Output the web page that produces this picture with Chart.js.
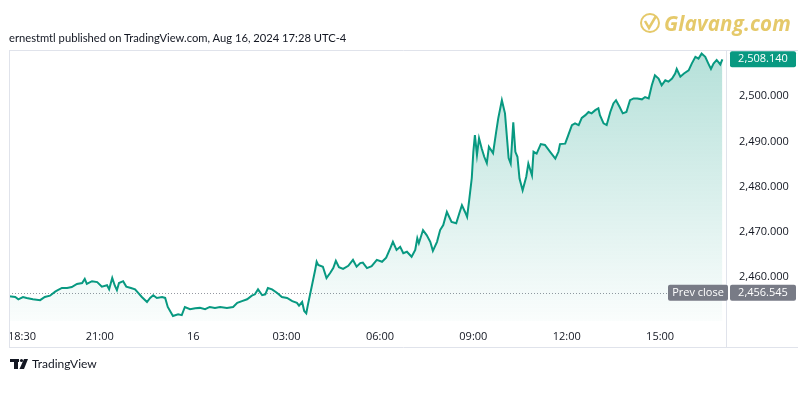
<!DOCTYPE html>
<html lang="en">
<head>
    <meta charset="UTF-8">
    <title>Gold futures - TradingView</title>
    <script src="https://cdn.jsdelivr.net/npm/chart.js"></script>
    <style>
        body { margin: 0; background: #fff; }
        .wrap { position: relative; width: 800px; height: 400px; }
        canvas { position: absolute; left: 0; top: 0; }
        .header { position: absolute; left: 9px; top: 31px; font: 11.2px Lato, sans-serif; color: #131722; }
        .brand { position: absolute; left: 664px; top: 9px; font: italic bold 20.5px "Open Sans", sans-serif; color: #e5c96a; letter-spacing: 0.2px; }
        .tv { position: absolute; left: 32px; top: 356px; font: 12px Lato, sans-serif; color: #131722; }
    </style>
</head>
<body>
    <div class="wrap">
        <canvas id="chart" width="800" height="400"></canvas>
        <div class="header">ernestmtl published on TradingView.com, Aug 16, 2024 17:28 UTC-4</div>
        <div class="brand">Glavang.com</div>
        <div class="tv">TradingView</div>
    </div>

    <script>
        // minutes after 18:00 (Aug 15)
        const timeMin = [5, 17, 23, 32, 39, 51, 65, 74, 84, 94, 99, 107, 117, 126, 136, 146, 151, 155, 165, 175,
            184, 194, 198, 204, 209, 213, 217, 225, 231, 240, 248, 254, 261, 271, 277, 283, 290, 300, 306, 311,
            321, 331, 338, 344, 354, 364, 373, 383, 392, 402, 412, 425, 437, 445, 454, 464, 473, 479, 485, 493,
            499, 504, 512, 522, 531, 541, 551, 560, 564, 570, 574, 578, 581, 589, 595, 598, 601, 610, 617, 624,
            630, 635, 641, 649, 659, 668, 675, 682, 687, 695, 704, 714, 724, 732, 740, 745, 752, 759, 765, 772,
            781, 788, 792, 795, 803, 810, 817, 822, 830, 836, 842, 849, 858, 867, 873, 878, 884, 888, 892, 897,
            900, 903, 907, 911, 916, 921, 926, 930, 938, 944, 948, 955, 961, 968, 972, 977, 981, 985, 989, 995,
            1002, 1006, 1013, 1016, 1022, 1030, 1038, 1048, 1058, 1064, 1067, 1077, 1083, 1090, 1096, 1103, 1109, 1116, 1122, 1128,
            1135, 1141, 1144, 1151, 1157, 1164, 1170, 1175, 1182, 1188, 1195, 1202, 1209, 1216, 1225, 1231, 1238, 1244, 1250, 1257,
            1263, 1270, 1276, 1283, 1289, 1292, 1299, 1306, 1315, 1321, 1328, 1334, 1340, 1347, 1353, 1358, 1363, 1369, 1376, 1380];

        const price = [2455.8, 2455.6, 2455.1, 2455.6, 2455.4, 2455.1, 2454.9, 2455.6, 2455.9, 2456.8, 2457.1, 2457.6, 2457.6, 2457.8, 2458.5, 2458.7, 2459.6, 2458.5, 2459.1, 2458.9,
            2457.9, 2458.2, 2457.3, 2459.8, 2458.1, 2457.1, 2458.7, 2459.1, 2457.9, 2457.6, 2457.3, 2456.5, 2455.6, 2454.5, 2455.4, 2456.0, 2455.4, 2455.6, 2455.4, 2453.4,
            2451.4, 2451.8, 2451.6, 2453.4, 2452.9, 2453.1, 2453.2, 2452.9, 2453.4, 2453.2, 2453.4, 2453.2, 2453.4, 2454.3, 2454.7, 2455.1, 2455.9, 2456.2, 2457.3, 2456.0,
            2456.2, 2457.6, 2457.3, 2456.5, 2455.6, 2455.4, 2454.7, 2454.3, 2453.7, 2454.5, 2452.5, 2452.0, 2453.8, 2458.2, 2461.5, 2463.4, 2462.7, 2462.3, 2459.8, 2460.9,
            2462.0, 2463.6, 2462.2, 2461.8, 2462.5, 2463.8, 2462.3, 2463.1, 2463.2, 2462.0, 2462.4, 2463.8, 2463.4, 2464.3, 2466.4, 2467.8, 2466.0, 2466.7, 2465.3, 2465.6,
            2464.5, 2466.0, 2468.6, 2467.5, 2470.4, 2469.3, 2467.8, 2465.8, 2467.8, 2470.4, 2471.5, 2474.4, 2472.2, 2471.9, 2474.1, 2475.9, 2474.4, 2473.3, 2477.0, 2481.9,
            2487.7, 2491.4, 2487.0, 2490.7, 2488.5, 2486.6, 2485.2, 2488.8, 2487.4, 2492.1, 2495.1, 2499.1, 2496.2, 2486.3, 2485.1, 2494.2, 2487.7, 2486.6, 2481.8, 2479.2,
            2482.2, 2485.1, 2482.5, 2487.7, 2487.3, 2489.4, 2489.2, 2487.7, 2486.2, 2487.7, 2489.4, 2489.5, 2491.4, 2493.6, 2494.0, 2493.6, 2495.2, 2495.8, 2496.5, 2496.2,
            2496.9, 2497.3, 2495.8, 2494.0, 2493.6, 2496.5, 2498.4, 2499.1, 2497.6, 2496.2, 2496.5, 2499.1, 2499.5, 2499.5, 2499.3, 2499.8, 2499.5, 2502.4, 2504.6, 2503.9,
            2502.4, 2503.5, 2503.2, 2503.9, 2505.0, 2506.0, 2504.3, 2505.0, 2505.7, 2507.2, 2508.7, 2508.3, 2509.4, 2508.7, 2507.2, 2506.0, 2507.2, 2508.0, 2507.0, 2508.14];

        const xTickMin = [30, 180, 360, 540, 720, 900, 1080, 1260];
        const xTickLabels = ['18:30', '21:00', '16', '03:00', '06:00', '09:00', '12:00', '15:00'];
        const yTicks = [2460, 2470, 2480, 2490, 2500];
        const lastPrice = 2508.14;
        const prevClose = 2456.545;

        const teal = '#089981';
        const fmt = v => v.toLocaleString('en-US', { minimumFractionDigits: 3, maximumFractionDigits: 3 });

        // frame, prev close line, price labels and logos
        const decor = {
            id: 'decor',
            beforeDatasetsDraw(chart) {
                const { ctx, chartArea, scales } = chart;
                const y = Math.round(scales.y.getPixelForValue(prevClose)) + 0.5;
                ctx.save();
                ctx.strokeStyle = '#9598a1';
                ctx.lineWidth = 1;
                ctx.setLineDash([1, 2]);
                ctx.beginPath();
                ctx.moveTo(chartArea.left, y);
                ctx.lineTo(chartArea.right, y);
                ctx.stroke();
                ctx.restore();
            },
            afterDraw(chart) {
                const { ctx, chartArea, scales } = chart;
                ctx.save();
                ctx.strokeStyle = '#e0e3eb';
                ctx.lineWidth = 1;
                ctx.beginPath();
                ctx.moveTo(9, 50.5); ctx.lineTo(798, 50.5);
                ctx.moveTo(9.5, 50); ctx.lineTo(9.5, 347);
                ctx.moveTo(9, 347.5); ctx.lineTo(798, 347.5);
                ctx.moveTo(chartArea.right + 0.5, 50); ctx.lineTo(chartArea.right + 0.5, 347);
                ctx.stroke();

                ctx.font = '11px "Open Sans", sans-serif';
                ctx.textBaseline = 'middle';
                ctx.textAlign = 'center';

                // last price
                let y = scales.y.getPixelForValue(lastPrice);
                ctx.fillStyle = teal;
                ctx.beginPath();
                ctx.roundRect(730, y - 8, 66, 16, 2);
                ctx.fill();
                ctx.fillStyle = '#fff';
                ctx.fillText(fmt(lastPrice), 763, y);

                // prev close
                y = scales.y.getPixelForValue(prevClose);
                ctx.fillStyle = '#787b86';
                ctx.beginPath();
                ctx.roundRect(668, y - 8, 60, 16, 2);
                ctx.roundRect(730, y - 8, 66, 16, 2);
                ctx.fill();
                ctx.fillStyle = '#fff';
                ctx.fillText('Prev close', 698, y);
                ctx.fillText(fmt(prevClose), 763, y);

                // TradingView mark
                ctx.fillStyle = '#131722';
                ctx.fillRect(10, 359, 9, 3);
                ctx.fillRect(14, 359, 4, 10);
                ctx.beginPath();
                ctx.arc(21.5, 360.5, 1.6, 0, Math.PI * 2);
                ctx.fill();
                ctx.beginPath();
                ctx.moveTo(24, 359); ctx.lineTo(28, 359); ctx.lineTo(24, 369); ctx.lineTo(19.5, 369);
                ctx.closePath();
                ctx.fill();

                // Glavang mark
                ctx.strokeStyle = '#e5c96a';
                ctx.lineWidth = 2;
                ctx.beginPath();
                ctx.arc(650, 23, 9, 0, Math.PI * 2);
                ctx.stroke();
                ctx.lineWidth = 2.5;
                ctx.beginPath();
                ctx.moveTo(645, 21); ctx.lineTo(649, 28); ctx.lineTo(656, 16);
                ctx.stroke();
                ctx.restore();
            }
        };

        const ctx = document.getElementById('chart');
        new Chart(ctx, {
            type: 'line',
            data: {
                datasets: [{
                    data: timeMin.map((t, i) => ({ x: t, y: price[i] })),
                    borderColor: teal,
                    borderWidth: 2,
                    pointRadius: 0,
                    tension: 0,
                    fill: 'start',
                    backgroundColor: (c) => {
                        const area = c.chart.chartArea;
                        if (!area) return 'rgba(8,153,129,0.15)';
                        const g = c.chart.ctx.createLinearGradient(0, area.top, 0, area.bottom);
                        g.addColorStop(0, 'rgba(8,153,129,0.30)');
                        g.addColorStop(1, 'rgba(8,153,129,0.02)');
                        return g;
                    }
                }]
            },
            options: {
                responsive: false,
                animation: false,
                layout: { padding: { left: 9, top: 50, right: 0, bottom: 53 } },
                plugins: { legend: { display: false }, tooltip: { enabled: false } },
                scales: {
                    x: {
                        type: 'linear',
                        min: 5,
                        max: 1387,
                        grid: { display: false },
                        border: { display: false },
                        afterBuildTicks: (s) => { s.ticks = xTickMin.map(v => ({ value: v })); },
                        afterFit: (s) => { s.height = 26; },
                        ticks: {
                            autoSkip: false,
                            maxRotation: 0,
                            padding: 1,
                            color: '#131722',
                            font: { family: 'Open Sans', size: 11 },
                            callback: (v) => xTickLabels[xTickMin.indexOf(v)]
                        }
                    },
                    y: {
                        position: 'right',
                        min: 2450.3,
                        max: 2510.2,
                        grid: { display: false },
                        border: { display: false },
                        afterBuildTicks: (s) => { s.ticks = yTicks.map(v => ({ value: v })); },
                        afterFit: (s) => { s.width = 74; },
                        ticks: {
                            padding: 5,
                            crossAlign: 'near',
                            color: '#131722',
                            font: { family: 'Open Sans', size: 11 },
                            callback: (v) => fmt(v)
                        }
                    }
                }
            },
            plugins: [decor]
        });
    </script>
</body>
</html>
